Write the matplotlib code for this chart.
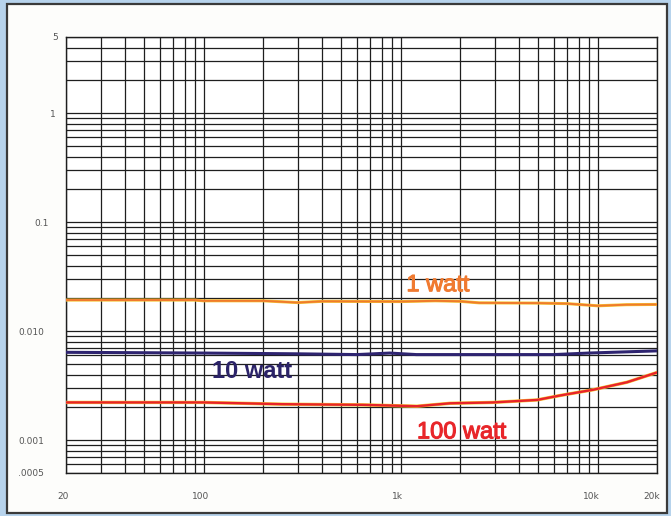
import matplotlib
matplotlib.use("Agg")
import matplotlib.pyplot as plt
import matplotlib.patheffects as pe
from matplotlib.patches import Rectangle
from matplotlib.ticker import LogLocator, NullFormatter
from matplotlib.transforms import ScaledTranslation

# ---- data ----
freq_1w = [20, 50, 90, 100, 200, 300, 400, 1000, 1500, 2000, 2500, 5000, 7000, 10000, 14000, 20000]
thd_1w = [0.0193, 0.0193, 0.0193, 0.0190, 0.0190, 0.0183, 0.0188, 0.0187, 0.0190, 0.0188,
          0.0182, 0.0181, 0.0179, 0.0171, 0.0175, 0.0176]

freq_10w = [20, 100, 300, 600, 880, 1200, 3000, 6000, 9000, 20000]
thd_10w = [0.0064, 0.0063, 0.0062, 0.0061, 0.0063, 0.0061, 0.0061, 0.0061, 0.0063, 0.0066]

freq_100w = [20, 100, 250, 640, 1210, 1780, 2940, 4920, 6440, 9460, 14080, 20000]
thd_100w = [0.00222, 0.00222, 0.00214, 0.00211, 0.00205, 0.00218, 0.00222, 0.00234,
            0.00257, 0.00290, 0.00340, 0.00418]

x_ticks = [20, 100, 1000, 10000, 20000]
x_labels = ["20", "100", "1k", "10k", "20k"]
y_ticks = [0.0005, 0.001, 0.01, 0.1, 1, 5]
y_labels = [".0005", "0.001", "0.010", "0.1", "1", "5"]

series_labels = ["1 watt", "10 watt", "100 watt"]

# ---- figure ----
W, H = 671, 516
fig = plt.figure(figsize=(W / 100, H / 100), dpi=100, facecolor="#b7d3ec")
bg = fig.add_axes([0, 0, 1, 1], zorder=-5)
bg.set_xlim(0, W)
bg.set_ylim(H, 0)
bg.axis("off")
bg.add_patch(Rectangle((7, 4), 660, 509, facecolor="#fdfdfb",
                       edgecolor="#3a3a3a", linewidth=1.6))

ax = fig.add_axes([66 / W, 1 - 473 / H, (657 - 66) / W, (473 - 37) / H], zorder=1)
ax.set_facecolor("white")
ax.set_xscale("log")
ax.set_yscale("log")
ax.set_xlim(20, 20000)
ax.set_ylim(0.0005, 5)

ax.xaxis.set_minor_locator(LogLocator(base=10, subs=range(2, 10), numticks=50))
ax.yaxis.set_minor_locator(LogLocator(base=10, subs=range(2, 10), numticks=50))
ax.xaxis.set_minor_formatter(NullFormatter())
ax.yaxis.set_minor_formatter(NullFormatter())
ax.grid(which="both", color="#1e1e1e", linewidth=0.9)
ax.set_axisbelow(True)

ax.set_xticks(x_ticks)
ax.set_xticklabels(x_labels)
ax.set_yticks(y_ticks)
ax.set_yticklabels(y_labels)
ax.tick_params(which="both", length=0)
ax.tick_params(axis="x", pad=14, labelsize=6.5, labelcolor="#555555")
ax.tick_params(axis="y", pad=16, labelsize=6.5, labelcolor="#555555")
for s in ax.spines.values():
    s.set_color("#1e1e1e")
    s.set_linewidth(1.0)

# nudge tick labels to where the scan has them
x_shift = [-3, -3, -3, -6, -5]
for lab, dx in zip(ax.get_xticklabels(), x_shift):
    lab.set_transform(lab.get_transform() + ScaledTranslation(dx / 100, 0, fig.dpi_scale_trans))
y_shift = [0, 0, 0, 5, 12, 14]
for lab, dx in zip(ax.get_yticklabels(), y_shift):
    lab.set_transform(lab.get_transform() + ScaledTranslation(dx / 100, 0, fig.dpi_scale_trans))

# curves
ax.plot(freq_1w, thd_1w, color="#f5c834", linewidth=2.2, zorder=3)
ax.plot(freq_1w, thd_1w, color="#f07a2c", linewidth=1.4, zorder=4)
ax.plot(freq_10w, thd_10w, color="#2e2470", linewidth=2.2, zorder=4)
ax.plot(freq_100w, thd_100w, color="#f5c834", linewidth=2.4, zorder=3)
ax.plot(freq_100w, thd_100w, color="#e8232a", linewidth=1.7, zorder=4)

fam = ["Liberation Sans", "DejaVu Sans"]
ax.text(1546, 0.0264, series_labels[0], color="#f07a30", fontsize=17, family=fam,
        ha="center", va="center", zorder=5,
        path_effects=[pe.withStroke(linewidth=0.8, foreground="#f07a30")])
ax.text(176, 0.0043, series_labels[1], color="#2b2368", fontsize=17, family=fam,
        fontweight="bold", ha="center", va="center", zorder=5)
ax.text(2040, 0.00118, series_labels[2], color="#e8262a", fontsize=17, family=fam,
        ha="center", va="center", zorder=5,
        path_effects=[pe.withStroke(linewidth=0.8, foreground="#e8262a")])

fig.savefig("out.png", dpi=100, facecolor=fig.get_facecolor())
